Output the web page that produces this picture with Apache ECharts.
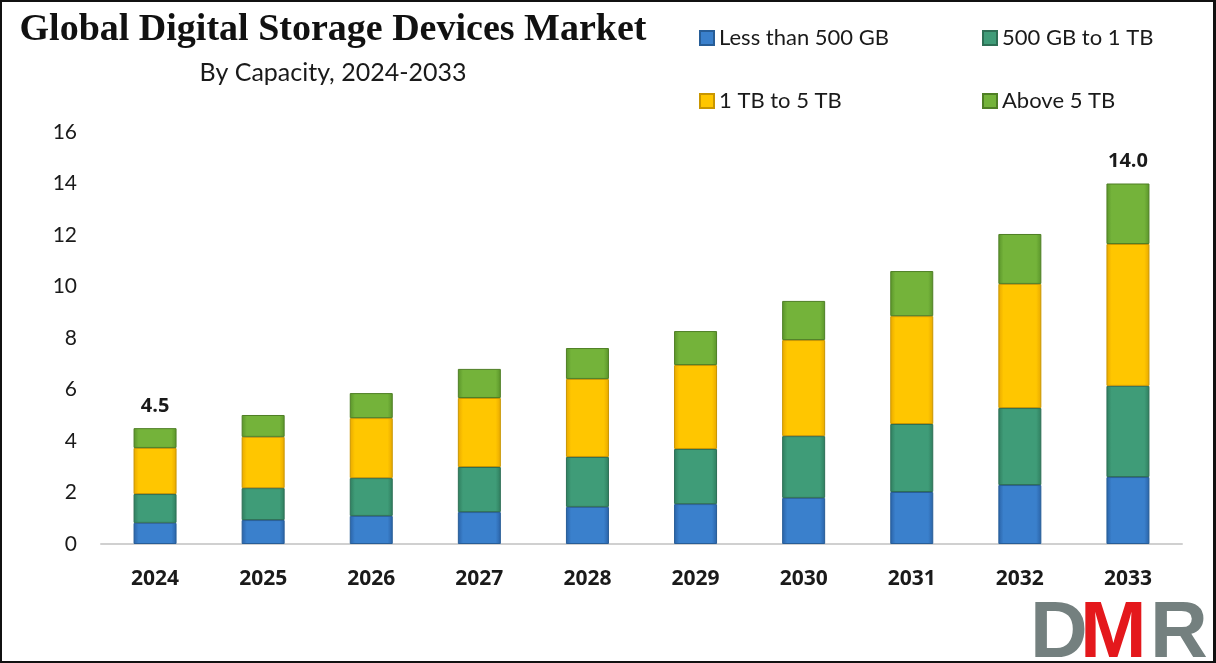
<!DOCTYPE html>
<html><head><meta charset="utf-8">
<script src="https://cdn.jsdelivr.net/npm/echarts@6/dist/echarts.min.js"></script>
<style>
html,body{margin:0;padding:0;background:#fff;}
#frame{width:1216px;height:663px;box-sizing:border-box;border:2px solid #111;border-right-width:3px;position:relative;overflow:hidden;}
#chart{position:absolute;left:-2px;top:-2px;width:1216px;height:663px;}
</style></head>
<body><div id="frame"><div id="chart"></div></div>
<script>
const categories = ['2024','2025','2026','2027','2028','2029','2030','2031','2032','2033'];
const lessThan500GB = [0.82,0.93,1.09,1.24,1.44,1.55,1.79,2.02,2.29,2.60];
const gb500To1TB   = [1.12,1.24,1.47,1.75,1.94,2.14,2.40,2.64,2.99,3.54];
const tb1To5TB     = [1.79,1.99,2.33,2.68,3.03,3.26,3.73,4.19,4.82,5.51];
const above5TB     = [0.77,0.85,0.97,1.13,1.20,1.32,1.52,1.75,1.94,2.35];
const totalLabels  = ['4.5','','','','','','','','','14.0'];
const yTicks = [0,2,4,6,8,10,12,14,16];

const seriesNames = ['Less than 500 GB','500 GB to 1 TB','1 TB to 5 TB','Above 5 TB'];
const seriesData = [lessThan500GB, gb500To1TB, tb1To5TB, above5TB];
const palette = [
  {mid:'#3a80cc', edge:'#2a62a6', border:'#275d97'},
  {mid:'#3f9c78', edge:'#2f7d5e', border:'#2d6f55'},
  {mid:'#ffc600', edge:'#e8a800', border:'#c99600'},
  {mid:'#74b33a', edge:'#5a942a', border:'#4f7f25'}
];
function grad(p){
  return new echarts.graphic.LinearGradient(0,0,1,0,[
    {offset:0,color:p.edge},{offset:0.12,color:p.mid},{offset:0.88,color:p.mid},{offset:1,color:p.edge}
  ]);
}
const font = 'Lato, "Open Sans", sans-serif';
const chart = echarts.init(document.getElementById('chart'), null, {renderer:'canvas'});
const series = seriesNames.map((n,i)=>({
  name:n, type:'bar', stack:'total', barWidth:43,
  data: seriesData[i],
  itemStyle:{color:grad(palette[i]), borderColor:palette[i].border, borderWidth:1},
  label: i===3 ? {
    show:true, position:'top', distance:12,
    formatter:(p)=>totalLabels[p.dataIndex],
    fontFamily:'"Open Sans", sans-serif', fontWeight:'bold', fontSize:20, color:'#1a1a1a'
  } : {show:false}
}));
function legendAt(name, left, top){
  return {
    data:[{name:name, icon:'rect'}], left:left, top:top, orient:'horizontal',
    itemWidth:14, itemHeight:14, itemGap:6,
    textStyle:{fontFamily:font, fontSize:22, color:'#1a1a1a', padding:[0,0,0,0]},
    selectedMode:false
  };
}
chart.setOption({
  animation:false,
  title:[
    {text:'Global Digital Storage Devices Market', left:328, top:6, textAlign:'center',
     textStyle:{fontFamily:'"Liberation Serif", serif', fontWeight:'bold', fontSize:38, color:'#111'}},
    {text:'By Capacity, 2024-2033', left:328, top:55, textAlign:'center',
     textStyle:{fontFamily:font, fontWeight:'normal', fontSize:25, color:'#1a1a1a'}}
  ],
  legend:[
    legendAt(seriesNames[0], 694, 22),
    legendAt(seriesNames[1], 977, 22),
    legendAt(seriesNames[2], 694, 85),
    legendAt(seriesNames[3], 977, 85)
  ],
  grid:{left:101, right:34, top:132, bottom:119, containLabel:false},
  xAxis:{type:'category', data:categories,
    axisLine:{lineStyle:{color:'#d0d0d0', width:2}}, axisTick:{show:false},
    axisLabel:{fontFamily:'"Open Sans", sans-serif', fontWeight:'bold', fontSize:21, color:'#1a1a1a', margin:25}},
  yAxis:{type:'value', min:yTicks[0], max:yTicks[yTicks.length-1], interval:2,
    axisLine:{show:false}, axisTick:{show:false}, splitLine:{show:false},
    axisLabel:{fontFamily:font, fontSize:21, color:'#1a1a1a', margin:24}},
  series:series,
  graphic:[
    {type:'text', left:1030, top:595, style:{text:'D', font:'bold 80px "Liberation Sans", sans-serif', fill:'#74807f'}},
    {type:'text', left:1080, top:595, style:{text:'M', font:'bold 80px "Liberation Sans", sans-serif', fill:'#e4181c'}},
    {type:'text', left:1150, top:595, style:{text:'R', font:'bold 80px "Liberation Sans", sans-serif', fill:'#74807f'}}
  ]
});
</script></body></html>
